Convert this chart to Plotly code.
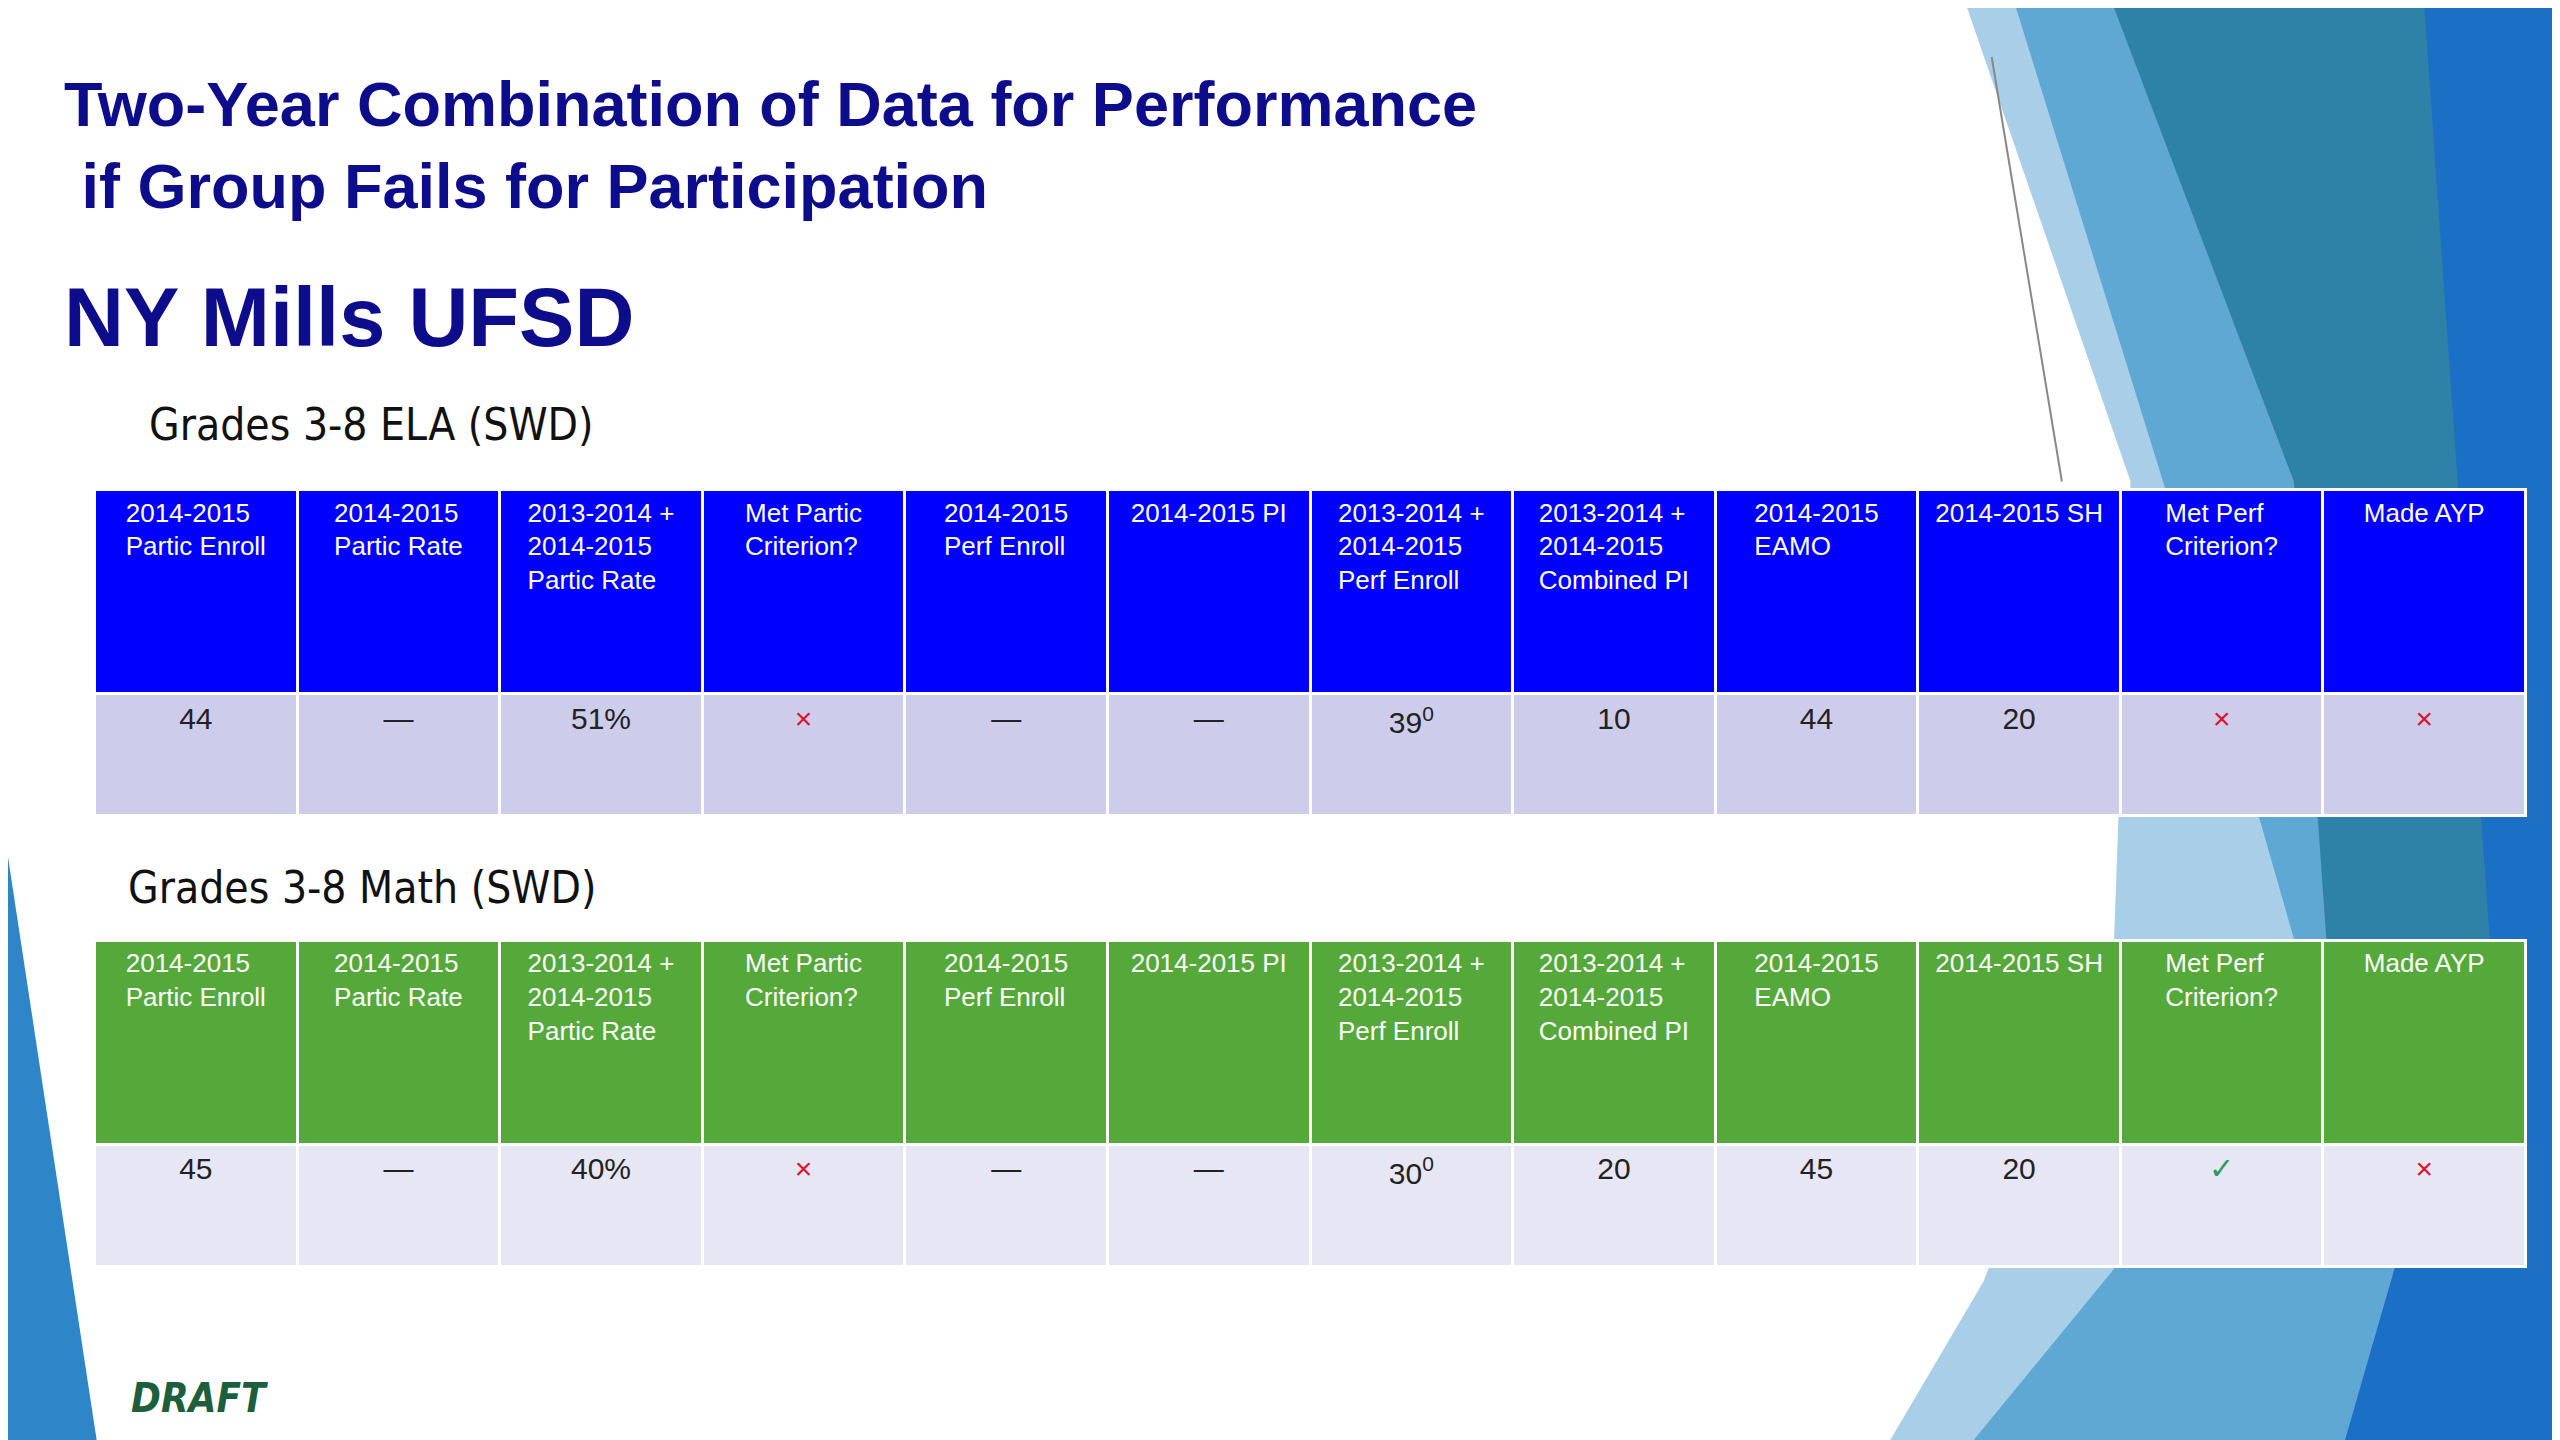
import plotly.graph_objects as go

W, H = 2560, 1440

headers = ["2014-2015<br>Partic Enroll", "2014-2015<br>Partic Rate", "2013-2014 +<br>2014-2015<br>Partic Rate",
           "Met Partic<br>Criterion?", "2014-2015<br>Perf Enroll", "2014-2015 PI", "2013-2014 +<br>2014-2015<br>Perf Enroll",
           "2013-2014 +<br>2014-2015<br>Combined PI", "2014-2015<br>EAMO", "2014-2015 SH", "Met Perf<br>Criterion?", "Made AYP"]

ela_values = ["44", "—", "51%", "×", "—", "—", "39<sup>0</sup>", "10", "44", "20", "×", "×"]
math_values = ["45", "—", "40%", "×", "—", "—", "30<sup>0</sup>", "20", "45", "20", "✓", "×"]


def pad_header(h):
    # plotly tables top-align text; pad with blank lines to centre it
    n = h.count("<br>") + 1
    return {1: "<br><br>", 2: "<br>", 3: "<br>"}[n] + h


def val_colors(vals):
    out = []
    for v in vals:
        if v == "×":
            out.append("#e01030")
        elif v == "✓":
            out.append("#2a9d5c")
        else:
            out.append("#222222")
    return out


def make_table(vals, head_fill, row_fill, y0, y1):
    return go.Table(
        domain=dict(x=[53 / 1568, 1542 / 1568], y=[y0, y1]),
        columnwidth=[1] * len(headers),
        header=dict(values=[pad_header(h) for h in headers], fill_color=head_fill,
                    line=dict(color="white", width=3),
                    font=dict(family="Liberation Sans, Arial", size=26, color="white"),
                    align="center", height=204),
        cells=dict(values=[["<br>" + v] for v in vals], fill_color=row_fill, line=dict(color="white", width=3),
                   font=dict(family="Liberation Sans, Arial", size=30, color=val_colors(vals)),
                   align="center", height=122),
    )


fig = go.Figure()
fig.add_trace(make_table(ela_values, "#0000ff", "#cdcdeb", 1 - 500 / 882, 1 - 295 / 882))
fig.add_trace(make_table(math_values, "#55a83a", "#e6e6f4", 1 - 773 / 882, 1 - 571 / 882))


def poly(pts, color):
    path = "M " + " L ".join(f"{x / 1568:.4f},{1 - y / 882:.4f}" for x, y in pts) + " Z"
    fig.add_shape(type="path", path=path, xref="paper", yref="paper", fillcolor=color,
                  line=dict(width=0), layer="below")


# decorative background shapes
poly([(1200, 0), (1568, 0), (1568, 882), (1150, 882), (1210, 780), (1290, 570), (1300, 290)], "#a9cfe8")
poly([(1230, 0), (1568, 0), (1568, 882), (1200, 882), (1300, 760), (1400, 570), (1320, 290)], "#5ea8d3")
poly([(1290, 0), (1568, 0), (1568, 600), (1420, 570), (1400, 290)], "#2e82a8")
poly([(1480, 0), (1568, 0), (1568, 882), (1430, 882), (1520, 570)], "#1b6fc4")
poly([(0, 520), (55, 882), (0, 882)], "#2e86c8")
fig.add_shape(type="line", x0=1215 / 1568, y0=1 - 30 / 882, x1=1258 / 1568, y1=1 - 290 / 882,
              xref="paper", yref="paper", line=dict(color="#888888", width=2), layer="below")

texts = [
    ("Two-Year Combination of Data for Performance<br> if Group Fails for Participation", 33, 36, 63, "Liberation Sans, Arial", "#0d0d8c", True),
    ("NY Mills UFSD", 33, 160, 83, "Liberation Sans, Arial", "#0d0d8c", True),
    ("Grades 3-8 ELA (SWD)", 85, 238, 44, "DejaVu Sans Condensed", "#111111", False),
    ("Grades 3-8 Math (SWD)", 72, 522, 44, "DejaVu Sans Condensed", "#111111", False),
    ("<i>DRAFT</i>", 74, 836, 40, "DejaVu Sans Condensed", "#1d5e3c", True),
]
for t, x, y, s, fam, col, bold in texts:
    fig.add_annotation(text=f"<b>{t}</b>" if bold else t, x=x / 1568, y=1 - y / 882, xref="paper", yref="paper",
                       xanchor="left", yanchor="top", showarrow=False, align="left",
                       font=dict(size=s, family=fam, color=col))

fig.update_layout(width=W, height=H, margin=dict(l=0, r=0, t=0, b=0),
                  paper_bgcolor="white", plot_bgcolor="white")
fig.write_html("out.html")
